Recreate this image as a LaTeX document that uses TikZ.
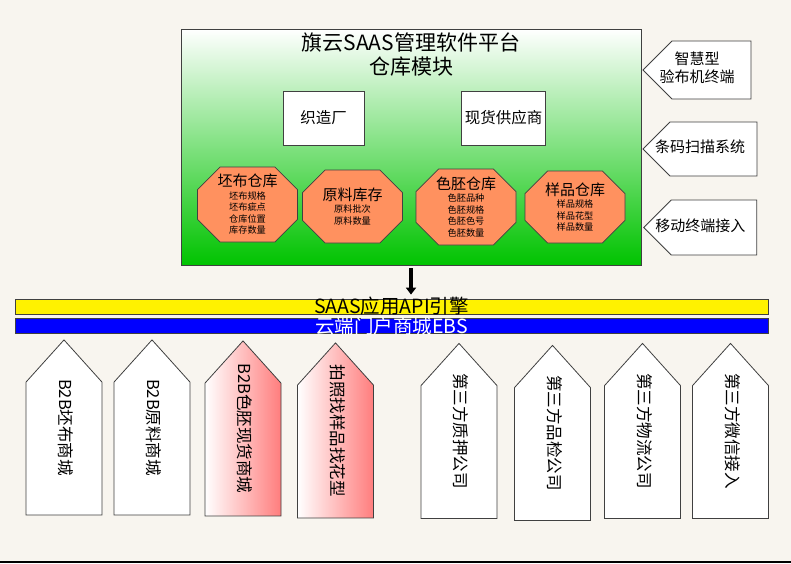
\documentclass[tikz,border=0pt]{standalone}
\usepackage{fontspec}
\setmainfont{Noto Sans CJK SC}
\usetikzlibrary{shapes.misc,shapes.symbols,arrows.meta}
\definecolor{paper}{RGB}{248,245,239}
\definecolor{leaf}{RGB}{0,195,0}
\definecolor{brick}{RGB}{255,145,95}
\definecolor{rim}{RGB}{64,64,64}
\definecolor{blush}{RGB}{255,125,125}
\newcommand\storetitle[1]{{\fontsize{15}{17}\selectfont #1}}
% text pushed towards the pointer of a signal shape, box of no width
\newcommand\tiplabel[2]{\makebox[0pt]{\begin{tabular}{@{}c@{}}#2\end{tabular}\hspace*{#1}}}
\begin{document}
\begin{tikzpicture}[x=1pt, y=-1pt, line width=0.8pt,
    platform/.style = {draw=rim, top color=white, bottom color=leaf, minimum width=460pt, minimum height=236pt},
    unit/.style = {draw=rim, fill=white, minimum width=81pt, minimum height=54pt, font=\fontsize{15.5}{17}\selectfont},
    store/.style = {chamfered rectangle, chamfered rectangle xsep=19pt, draw=rim, fill=brick, align=center, inner sep=1pt, font=\fontsize{9.2}{11.5}\selectfont},
    terminal/.style = {signal, signal to=west, signal pointer angle=90, draw=rim, fill=white, font=\fontsize{15}{18}\selectfont},
    shop/.style = {signal, signal to=west, signal pointer angle=84, draw=rim, fill=white, rotate=-90, minimum width=175pt, minimum height=76pt, font=\fontsize{16.5}{18}\selectfont},
    hot/.style = {left color=white, right color=blush},
    bar/.style = {draw=rim, minimum width=753pt, inner sep=0pt, text height=14.5pt, text depth=0.5pt, font=\fontsize{19.5}{20}\selectfont}]
    \fill[paper] (0,0) rectangle (791,563);
    \useasboundingbox (0,0) rectangle (791,563);
    \draw[line width=2pt] (0,562) -- (791,562);

    % warehouse module
    \node[platform] (plat) at (411,147) {};
    \node[align=center, font=\fontsize{21}{24}\selectfont] (title) at (411,55) {旗云SAAS管理软件平台\\仓库模块};
    \node[unit] (mill) at (323.5,118) {织造厂};
    \node[unit] (supplier) at (503.5,118) {现货供应商};
    \node[store, minimum width=87pt, minimum height=75pt] (grey) at (247.5,204.5) {\storetitle{坯布仓库}\\[1pt]坯布规格\\坯布疵点\\仓库位置\\库存数量};
    \node[store, minimum width=83pt, minimum height=73pt] (yarn) at (352.5,206.5) {\storetitle{原料库存}\\[1pt]原料批次\\原料数量};
    \node[store, minimum width=96pt, minimum height=76pt] (dyed) at (466,207) {\storetitle{色胚仓库}\\[1pt]色胚品种\\色胚规格\\色胚色号\\色胚数量};
    \node[store, minimum width=92pt, minimum height=72pt] (sample) at (575,207) {\storetitle{样品仓库}\\[1pt]样品规格\\样品花型\\样品数量};

    % terminals
    \node[terminal, minimum width=108pt, minimum height=58pt] (inspect) at (711.5,70) {\tiplabel{29pt}{智慧型\\验布机终端}};
    \node[terminal, minimum width=114pt, minimum height=54pt] (barcode) at (713.5,149) {\tiplabel{27pt}{条码扫描系统}};
    \node[terminal, minimum width=113pt, minimum height=55pt] (mobile) at (714,227.5) {\tiplabel{27.5pt}{移动终端接入}};

    % engine
    \node[bar, fill=yellow] (api) at (391.5,306.5) {SAAS应用API引擎};
    \node[bar, fill=blue, text=white] (ebs) at (391.5,326) {云端门户商城EBS};
    \draw[-{Triangle[length=7pt,width=10pt]}, line width=4pt] ([yshift=-3pt]plat.south) -- ([yshift=4pt]plat.south |- api.north);

    % portals
    \node[shop] (b2bgrey) at (64,448.5) {\tiplabel{42pt}{B2B坯布商城}};
    \node[shop] (b2byarn) at (152,448.5) {\tiplabel{42pt}{B2B原料商城}};
    \node[shop, hot] (b2bdyed) at (243,449.5) {\tiplabel{42pt}{B2B色胚现货商城}};
    \node[shop, hot] (photo) at (335.5,451.5) {\tiplabel{42pt}{拍照找样品找花型}};
    \node[shop] (pledge) at (459,452) {\tiplabel{42pt}{第三方质押公司}};
    \node[shop] (qc) at (552.5,454) {\tiplabel{42pt}{第三方品检公司}};
    \node[shop] (logistics) at (642.5,452) {\tiplabel{42pt}{第三方物流公司}};
    \node[shop] (wechat) at (730.5,452) {\tiplabel{42pt}{第三方微信接入}};
\end{tikzpicture}
\end{document}
